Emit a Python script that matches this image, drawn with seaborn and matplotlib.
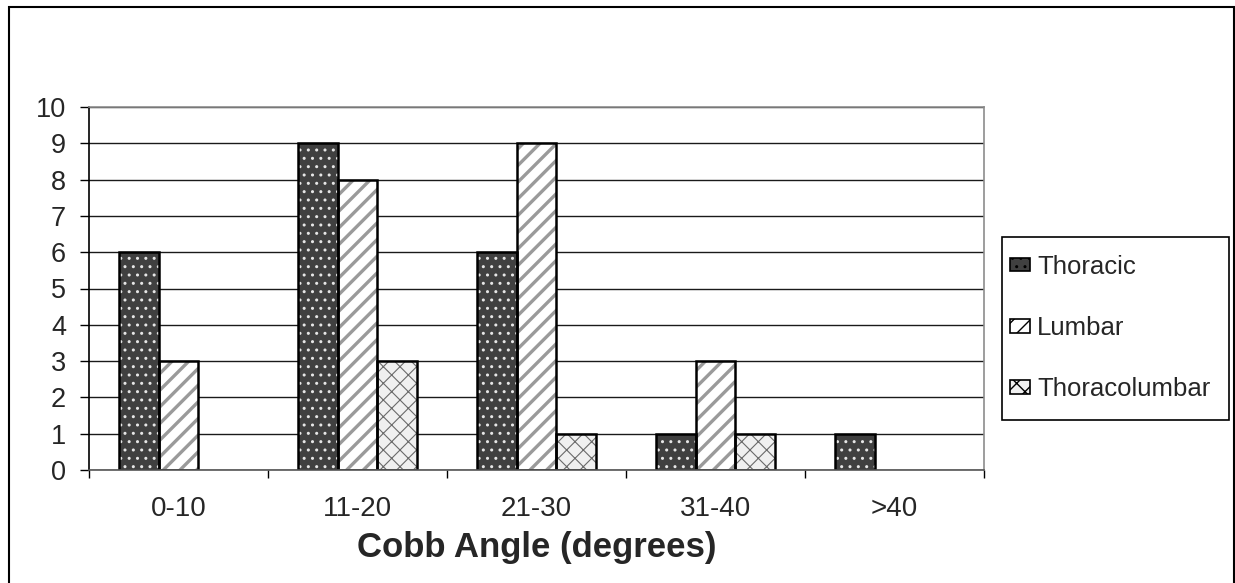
import matplotlib
matplotlib.use("Agg")
import matplotlib.pyplot as plt
from matplotlib.patches import Rectangle, Patch
import pandas as pd
import seaborn as sns

# Curve counts per Cobb angle band
angle_bands = ["0-10", "11-20", "21-30", "31-40", ">40"]
thoracic = [6, 9, 6, 1, 1]
lumbar = [3, 8, 9, 3, 0]
thoracolumbar = [0, 3, 1, 1, 0]
curve_types = ["Thoracic", "Lumbar", "Thoracolumbar"]
y_ticks = list(range(0, 11))

df = pd.DataFrame({
    "band": angle_bands * 3,
    "count": thoracic + lumbar + thoracolumbar,
    "type": [t for t in curve_types for _ in angle_bands],
})

# fill, hatch pattern, hatch colour, hatch width
styles = {
    "Thoracic": ("#404040", "..", "#e6e6e6", 1.0),
    "Lumbar": ("#ffffff", "//", "#9a9a9a", 2.4),
    "Thoracolumbar": ("#f0f0f0", "xx", "#6a6a6a", 0.8),
}

sns.set_theme(style="white")
plt.rcParams["font.family"] = ["Liberation Sans", "DejaVu Sans"]

W, H = 1235, 583
fig = plt.figure(figsize=(W / 100, H / 100), dpi=100)
ax = fig.add_axes([89 / W, 1 - 470 / H, (984 - 89) / W, (470 - 107) / H])

sns.barplot(
    data=df, x="band", y="count", hue="type",
    order=angle_bands, hue_order=curve_types,
    palette={k: v[0] for k, v in styles.items()},
    width=0.67, legend=False, ax=ax, errorbar=None,
)

for container, name in zip(ax.containers, curve_types):
    face, hatch, hcol, hlw = styles[name]
    for bar in container:
        bar.set_facecolor(face)
        bar.set_hatch(hatch)
        bar.set_edgecolor(hcol)
        bar.set_linewidth(0)
        if hasattr(bar, "set_hatch_linewidth"):
            bar.set_hatch_linewidth(hlw)
        if bar.get_height() > 0:
            ax.add_patch(Rectangle(bar.get_xy(), bar.get_width(), bar.get_height(),
                                   fill=False, edgecolor="black", linewidth=1.8,
                                   zorder=bar.get_zorder() + 0.1))

ax.set_xlim(-0.5, len(angle_bands) - 0.5)
ax.set_ylim(0, 10)
ax.set_yticks(y_ticks)
ax.yaxis.grid(True, color="#1a1a1a", linewidth=1.0)
ax.set_axisbelow(True)

for side in ["top", "right"]:
    ax.spines[side].set_visible(True)
    ax.spines[side].set_color("#8c8c8c")
    ax.spines[side].set_linewidth(1.2)
ax.spines["left"].set_color("black")
ax.spines["left"].set_linewidth(1.2)
ax.spines["bottom"].set_color("#555555")
ax.spines["bottom"].set_linewidth(1.2)

ax.tick_params(axis="y", which="major", direction="out", length=6.5, width=1,
               color="black", labelsize=19.5, pad=10, left=True)
ax.tick_params(axis="x", which="major", length=0, labelsize=20, pad=19)
ax.set_xticks([i - 0.5 for i in range(len(angle_bands) + 1)], minor=True)
ax.tick_params(axis="x", which="minor", direction="out", length=5.5, width=1,
               color="black", bottom=True)

ax.set_ylabel("")
ax.set_xlabel("Cobb Angle (degrees)", fontsize=25, fontweight="bold", labelpad=6)

# Legend with hatched swatches
handles = []
for name in curve_types:
    face, hatch, hcol, hlw = styles[name]
    handles.append(Patch(facecolor=face, edgecolor="black", hatch=hatch, linewidth=1.2))
leg = fig.legend(handles, curve_types, loc="center left",
                 bbox_to_anchor=(1010 / W, 1 - 328 / H), frameon=False,
                 fontsize=18.5, handlelength=0.78, handleheight=0.45,
                 handletextpad=0.27, labelspacing=1.45, borderpad=0,
                 borderaxespad=0)
fig.patches.append(Rectangle((1002 / W, 1 - 420 / H), (1229 - 1002) / W, (420 - 237) / H,
                             transform=fig.transFigure, fill=False,
                             edgecolor="black", linewidth=1.2))

# Outer chart border
fig.patches.append(Rectangle((8.5 / W, -0.02), (1233.5 - 8.5) / W, 1.02 - 7.5 / H,
                             transform=fig.transFigure, fill=False,
                             edgecolor="black", linewidth=1.5))

fig.savefig("out.png", dpi=100)
